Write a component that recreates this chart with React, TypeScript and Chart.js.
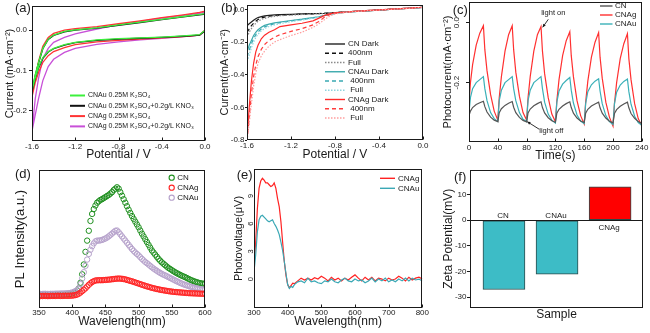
import React, { useEffect, useRef } from 'react';
import { Chart, registerables } from 'chart.js';
Chart.register(...registerables);

const FONT = "'Liberation Sans', Arial, Helvetica, sans-serif";
const INK = '#1a1a1a';

// ---------------- (a) cyclic voltammetry ----------------
const aPotential = [-1.6, -1.57, -1.54, -1.5, -1.45, -1.4, -1.3, -1.2, -1.0, -0.8, -0.6, -0.4, -0.2, -0.05, 0.0, 0.0, -0.05, -0.2, -0.4, -0.6, -0.8, -1.0, -1.2, -1.3, -1.4, -1.45, -1.5, -1.54, -1.57, -1.6];
const aCNAuK2SO4 = [-0.15, -0.11, -0.08, -0.045, -0.022, -0.012, -0.003, 0.001, 0.006, 0.013, 0.02, 0.027, 0.034, 0.039, 0.041, 0.0, -0.011, -0.014, -0.017, -0.019, -0.021, -0.024, -0.03, -0.036, -0.045, -0.053, -0.068, -0.092, -0.118, -0.15];
const aCNAuKNO3 = [-0.152, -0.112, -0.082, -0.046, -0.023, -0.013, -0.004, 0.0, 0.005, 0.012, 0.019, 0.026, 0.033, 0.038, 0.04, -0.002, -0.012, -0.015, -0.018, -0.02, -0.022, -0.025, -0.031, -0.037, -0.046, -0.054, -0.07, -0.094, -0.12, -0.152];
const aCNAgK2SO4 = [-0.165, -0.118, -0.078, -0.04, -0.018, -0.008, 0.0, 0.004, 0.009, 0.016, 0.023, 0.031, 0.038, 0.044, 0.047, 0.0, -0.012, -0.016, -0.019, -0.022, -0.025, -0.029, -0.036, -0.043, -0.053, -0.063, -0.08, -0.105, -0.13, -0.165];
const aCNAgKNO3 = [-0.25, -0.17, -0.12, -0.07, -0.045, -0.03, -0.018, -0.009, 0.003, 0.014, 0.022, 0.03, 0.037, 0.042, 0.045, 0.0, -0.012, -0.016, -0.02, -0.024, -0.029, -0.035, -0.045, -0.055, -0.072, -0.09, -0.125, -0.17, -0.21, -0.25];
const aXTicks = [-1.6, -1.2, -0.8, -0.4, 0.0];
const aYTicks = [-0.2, -0.1, 0.0];

// ---------------- (b) LSV ----------------
const bPotential = [-1.6, -1.59, -1.58, -1.56, -1.54, -1.52, -1.5, -1.47, -1.44, -1.4, -1.35, -1.3, -1.2, -1.1, -1.0, -0.95, -0.9, -0.85, -0.8, -0.7, -0.6, -0.4, -0.2, 0.0];
const bCNDark = [-0.1, -0.094, -0.088, -0.077, -0.066, -0.057, -0.05, -0.044, -0.04, -0.037, -0.034, -0.032, -0.03, -0.028, -0.026, -0.025, -0.024, -0.022, -0.02, -0.016, -0.012, -0.004, 0.004, 0.012];
const bCN400 = [-0.14, -0.13, -0.12, -0.1, -0.085, -0.072, -0.062, -0.053, -0.047, -0.042, -0.038, -0.035, -0.032, -0.029, -0.027, -0.026, -0.024, -0.022, -0.019, -0.015, -0.011, -0.003, 0.005, 0.013];
const bCNFull = [-0.17, -0.155, -0.14, -0.118, -0.1, -0.085, -0.073, -0.062, -0.055, -0.048, -0.043, -0.039, -0.035, -0.031, -0.028, -0.027, -0.025, -0.023, -0.02, -0.016, -0.012, -0.003, 0.005, 0.013];
const bCNAuDark = [-0.26, -0.24, -0.22, -0.19, -0.16, -0.14, -0.125, -0.11, -0.098, -0.09, -0.083, -0.077, -0.068, -0.06, -0.05, -0.045, -0.038, -0.03, -0.024, -0.017, -0.012, -0.004, 0.004, 0.012];
const bCNAu400 = [-0.29, -0.27, -0.25, -0.21, -0.18, -0.155, -0.138, -0.12, -0.107, -0.097, -0.088, -0.081, -0.071, -0.062, -0.052, -0.046, -0.039, -0.031, -0.024, -0.017, -0.012, -0.004, 0.004, 0.012];
const bCNAuFull = [-0.32, -0.3, -0.28, -0.235, -0.2, -0.172, -0.152, -0.132, -0.117, -0.105, -0.095, -0.087, -0.075, -0.065, -0.054, -0.047, -0.04, -0.032, -0.025, -0.017, -0.012, -0.004, 0.004, 0.012];
const bCNAgDark = [-0.78, -0.7, -0.6, -0.44, -0.33, -0.26, -0.22, -0.18, -0.158, -0.14, -0.125, -0.105, -0.095, -0.085, -0.07, -0.055, -0.038, -0.027, -0.021, -0.016, -0.011, -0.003, 0.005, 0.013];
const bCNAg400 = [-0.8, -0.74, -0.66, -0.52, -0.41, -0.34, -0.29, -0.245, -0.215, -0.19, -0.17, -0.155, -0.135, -0.118, -0.095, -0.075, -0.05, -0.033, -0.024, -0.017, -0.012, -0.004, 0.004, 0.012];
const bCNAgFull = [-0.8, -0.76, -0.7, -0.58, -0.47, -0.39, -0.33, -0.285, -0.255, -0.225, -0.2, -0.185, -0.16, -0.14, -0.11, -0.09, -0.065, -0.042, -0.028, -0.018, -0.012, -0.004, 0.004, 0.012];
const bYTicks = [-0.8, -0.6, -0.4, -0.2, 0.0];

// ---------------- (c) transient photocurrent ----------------
const cTime = [0, 2, 5, 10, 15, 20, 22, 25, 30, 35, 40, 42, 45, 50, 55, 60, 62, 65, 70, 75, 80, 82, 85, 90, 95, 100, 102, 105, 110, 115, 120, 122, 125, 130, 135, 140, 142, 145, 150, 155, 160, 162, 165, 170, 175, 180, 182, 185, 190, 195, 200, 202, 205, 210, 215, 220, 222, 225, 230, 235, 240];
const cCN = [-0.31, -0.295, -0.283, -0.273, -0.267, -0.262, -0.28, -0.298, -0.315, -0.325,
  -0.33, -0.3, -0.287, -0.276, -0.269, -0.263, -0.282, -0.3, -0.316, -0.326,
  -0.331, -0.301, -0.288, -0.277, -0.27, -0.264, -0.283, -0.301, -0.317, -0.327,
  -0.332, -0.302, -0.289, -0.278, -0.27, -0.264, -0.283, -0.302, -0.318, -0.328,
  -0.333, -0.302, -0.289, -0.278, -0.271, -0.265, -0.284, -0.302, -0.318, -0.329,
  -0.334, -0.303, -0.29, -0.279, -0.271, -0.265, -0.284, -0.303, -0.319, -0.33, -0.336];
const cCNAg = [-0.27, -0.2, -0.14, -0.075, -0.035, -0.01, -0.09, -0.16, -0.24, -0.295,
  -0.325, -0.25, -0.18, -0.095, -0.04, -0.01, -0.09, -0.165, -0.245, -0.3,
  -0.325, -0.25, -0.18, -0.095, -0.04, -0.013, -0.095, -0.17, -0.25, -0.305,
  -0.33, -0.26, -0.19, -0.11, -0.06, -0.03, -0.11, -0.18, -0.26, -0.31,
  -0.338, -0.265, -0.195, -0.115, -0.065, -0.033, -0.115, -0.185, -0.265, -0.315,
  -0.345, -0.27, -0.2, -0.12, -0.07, -0.037, -0.12, -0.19, -0.27, -0.32, -0.345];
const cCNAu = [-0.3, -0.25, -0.22, -0.2, -0.19, -0.18, -0.22, -0.26, -0.3, -0.32,
  -0.33, -0.26, -0.225, -0.2, -0.19, -0.18, -0.22, -0.26, -0.3, -0.322,
  -0.33, -0.26, -0.225, -0.2, -0.19, -0.18, -0.22, -0.265, -0.305, -0.325,
  -0.335, -0.265, -0.228, -0.205, -0.193, -0.183, -0.225, -0.268, -0.308, -0.328,
  -0.337, -0.27, -0.23, -0.207, -0.195, -0.187, -0.228, -0.27, -0.31, -0.33,
  -0.34, -0.27, -0.232, -0.208, -0.196, -0.188, -0.23, -0.272, -0.312, -0.333, -0.342];
const cXTicks = [0, 40, 80, 120, 160, 200, 240];
const cYTicks = [-0.2, 0.0];

// ---------------- (d) PL spectra ----------------
const dWavelength = [350, 352.5, 355, 357.5, 360, 362.5, 365, 367.5, 370, 372.5, 375, 377.5, 380, 382.5, 385, 387.5, 390, 392.5, 395, 397.5,
  400, 402.5, 405, 407.5, 410, 412.5, 415, 417.5, 420, 422.5, 425, 427.5, 430, 432.5, 435, 437.5, 440, 442.5, 445, 447.5,
  450, 452.5, 455, 457.5, 460, 462.5, 465, 467.5, 470, 472.5, 475, 477.5, 480, 482.5, 485, 487.5, 490, 492.5, 495, 497.5,
  500, 502.5, 505, 507.5, 510, 512.5, 515, 517.5, 520, 522.5, 525, 527.5, 530, 532.5, 535, 537.5, 540, 542.5, 545, 547.5,
  550, 552.5, 555, 557.5, 560, 562.5, 565, 567.5, 570, 572.5, 575, 577.5, 580, 582.5, 585, 587.5, 590, 592.5, 595, 597.5, 600];
const dCN = [9.5, 9.6, 9.5, 9.4, 9.6, 9.5, 9.5, 9.6, 9.6, 9.5, 9.7, 9.6, 9.8, 9.7, 9.7, 9.8, 9.8, 9.9, 10, 10.2,
  10.5, 10.9, 11.5, 12.5, 14, 18, 24, 31, 40, 48, 55, 62, 67, 70.5, 73, 75, 76, 77, 77.5, 78.3,
  79, 79.8, 80.5, 81.5, 82.5, 84, 85, 86, 85, 82.5, 80, 77.5, 75, 72.5, 70, 67.7, 65.5, 63.5, 61.5, 59.5,
  57.5, 55.2, 53, 51, 49, 47, 45, 43, 41, 39.5, 38, 36.5, 35, 33.7, 32.5, 31.5, 30.5, 29.5, 28.5, 27.8,
  27, 26.2, 25.5, 24.8, 24.2, 23.6, 23, 22.5, 22, 21.4, 20.8, 20.2, 19.7, 19.2, 18.8, 18.4, 18, 17.7, 17.5, 17.3, 17.2];
const dCNAg = [8.5, 8.5, 8.5, 8.6, 8.6, 8.5, 8.5, 8.6, 8.6, 8.6, 8.6, 8.7, 8.7, 8.6, 8.6, 8.7, 8.7, 8.7, 8.7, 8.8,
  8.8, 9, 9.2, 9.6, 10.2, 11, 12, 13, 14, 15.3, 16.5, 17.6, 18.5, 19.1, 19.6, 19.7, 19.8, 19.8, 19.8, 19.9,
  20, 20.1, 20.2, 20.3, 20.5, 20.6, 20.8, 20.9, 21, 20.9, 20.8, 20.6, 20.4, 20, 19.7, 19.3, 19, 18.6, 18.2, 17.8,
  17.4, 17, 16.6, 16.2, 15.8, 15.4, 15.1, 14.7, 14.4, 14.1, 13.8, 13.5, 13.3, 13, 12.8, 12.6, 12.4, 12.2, 12, 11.8,
  11.7, 11.5, 11.4, 11.3, 11.2, 11.1, 11, 10.9, 10.8, 10.7, 10.6, 10.5, 10.5, 10.4, 10.4, 10.3, 10.3, 10.2, 10.2, 10.1, 10.1];
const dCNAu = [10, 10, 10, 10.1, 10.1, 10, 10, 10.1, 10.1, 10.1, 10.2, 10.2, 10.2, 10.3, 10.3, 10.3, 10.4, 10.5, 10.6, 10.8,
  11, 11.5, 12, 12.8, 14, 17, 21, 25.5, 30, 34.5, 38.5, 41.5, 44, 46, 47.5, 48, 48, 48.2, 48.5, 49,
  49.5, 50.2, 51, 52, 53, 54, 55, 55.2, 54, 52.5, 51, 49.5, 48, 46.5, 45, 43.5, 42, 40.7, 39.5, 38.5,
  37.5, 36.2, 35, 33.9, 32.8, 31.9, 31, 30, 29, 28.1, 27.3, 26.5, 25.7, 25, 24.3, 23.7, 23.2, 22.6, 22, 21.4,
  20.8, 20.2, 19.6, 19, 18.5, 17.9, 17.4, 16.9, 16.5, 16.1, 15.7, 15.3, 15, 14.6, 14.3, 14, 13.8, 13.5, 13.3, 13.1, 13];
const dXTicks = [350, 400, 450, 500, 550, 600];

// ---------------- (e) surface photovoltage ----------------
const eWavelength = [300, 305, 310, 315, 320, 325, 330, 335, 340, 345, 350, 355, 360, 365, 370, 375, 380, 385, 390, 395, 400, 405, 410, 415, 420, 430, 440, 450, 460, 470, 480, 490, 500, 510, 520, 530, 540, 550, 560, 570, 580, 590, 600, 610, 620, 630, 640, 650, 660, 670, 680, 690, 700, 710, 720, 730, 740, 750, 760, 770, 780, 790, 800];
const eCNAg = [1.3, 4, 7.6, 9.8, 10.6, 10.9, 10.7, 10.4, 10.4, 10.2, 10.0, 10.1, 10.4, 9.8, 8.7, 7.8, 6.2, 4.0, 1.9, 0.4, -0.6, -0.95, -0.7, -0.45, -0.5,
  -0.2, 0.1, -0.1, 0.1, -0.1, 0.15, 0.0, 0.3, 0.1, -0.2, 0.2, -0.1, 0.1, -0.2, 0.1, -0.1, 0.2, 0.45, 0.1, -0.2, 0.2, -0.1, 0.2, -0.2, 0.1, 0.0, -0.2, 0.1, -0.1, 0.0, 0.3, 0.1, -0.2, 0.2, -0.1, 0.1, 0.2, 0.0];
const eCNAu = [0.8, 2.6, 5.1, 6.4, 6.8, 6.9, 6.7, 6.5, 6.3, 6.2, 6.3, 6.4, 6.0, 5.7, 5.3, 4.8, 4.0, 3.1, 1.9, 0.6, -0.6, -1.0, -0.8, -0.9, -0.6,
  -0.3, -0.2, -0.4, 0.1, -0.3, -0.2, -0.4, -0.5, -0.2, -0.3, 0.0, -0.3, -0.4, -0.1, 0.1, -0.2, -0.3, 0.0, -0.2, -0.1, -0.4, -0.2, 0.1, -0.3, 0.0, -0.2, 0.1, -0.3, -0.1, -0.3, 0.0, -0.2, 0.1, -0.2, 0.1, -0.1, 0.0, -0.2];
const eXTicks = [300, 400, 500, 600, 700, 800];
const eYTicks = [0, 3, 6, 9];

// ---------------- (f) zeta potential ----------------
const fSamples = ['CN', 'CNAu', 'CNAg'];
const fZeta = [-27, -21, 13];
const fColors = ['#3dbcc6', '#3dbcc6', '#ff0000'];
const fYTicks = [-30, -20, -10, 0, 10];

// ---------------- helpers ----------------
type AxisSpec = {
  min: number; max: number; ticks?: number[]; size: number;
  title?: string; titleSize?: number; titlePad?: number;
  labels?: boolean; fmt?: (v: number) => string;
  tickLen?: number; labelPad?: number;
};
const fmt1 = (v: number) => v.toFixed(1);

function axis(s: AxisSpec, horizontal: boolean) {
  const tl = s.tickLen || 0;
  return {
    type: 'linear',
    position: horizontal ? 'bottom' : 'left',
    min: s.min,
    max: s.max,
    afterBuildTicks: (sc: any) => { sc.ticks = (s.ticks || []).map((v) => ({ value: v })); },
    afterFit: (sc: any) => { if (horizontal) sc.height = s.size; else sc.width = s.size; },
    grid: { display: tl > 0, drawOnChartArea: false, drawTicks: tl > 0, tickLength: tl, color: INK, tickColor: INK, lineWidth: 1 },
    border: { display: false },
    ticks: {
      display: s.labels !== false && !!s.ticks && s.ticks.length > 0,
      autoSkip: false,
      minRotation: 0,
      maxRotation: 0,
      padding: s.labelPad ?? 1,
      color: INK,
      font: { size: 8, family: FONT, lineHeight: 1 },
      callback: (v: any) => (s.fmt ? s.fmt(Number(v)) : String(v)),
    },
    title: {
      display: !!s.title,
      text: s.title,
      color: INK,
      font: { size: s.titleSize || 12, family: FONT, lineHeight: 1.2 },
      padding: horizontal ? { top: 0, bottom: s.titlePad || 0 } : { top: s.titlePad || 0, bottom: 0 },
    },
  };
}

function txt(ctx: CanvasRenderingContext2D, s: string, x: number, y: number, size: number, align: CanvasTextAlign = 'left', color = INK) {
  ctx.save();
  ctx.font = `${size}px ${FONT}`;
  ctx.fillStyle = color;
  ctx.textAlign = align;
  ctx.textBaseline = 'middle';
  ctx.fillText(s, x, y);
  ctx.restore();
}

// y tick labels written vertically (rotated), placed from the library's own y scale
function rotatedYLabels(ctx: CanvasRenderingContext2D, chart: any, values: number[], xCenter: number, size: number, fmt: (v: number) => string) {
  const sy = chart.scales.y;
  values.forEach((v) => {
    const py = sy.getPixelForValue(v);
    ctx.save();
    ctx.translate(xCenter, py);
    ctx.rotate(-Math.PI / 2);
    ctx.font = `${size}px ${FONT}`;
    ctx.fillStyle = INK;
    ctx.textAlign = 'center';
    ctx.textBaseline = 'middle';
    ctx.fillText(fmt(v), 0, 0);
    ctx.restore();
  });
}

type LegendItem = { label: string; color: string; dash?: number[]; width?: number; marker?: boolean };
function legend(ctx: CanvasRenderingContext2D, items: LegendItem[], x: number, y: number, gap: number, len: number, textGap: number, size: number) {
  items.forEach((it, i) => {
    const yy = y + i * gap;
    ctx.save();
    ctx.strokeStyle = it.color;
    if (it.marker) {
      ctx.lineWidth = 1.1;
      ctx.beginPath();
      ctx.arc(x + len / 2, yy, 2.6, 0, Math.PI * 2);
      ctx.stroke();
    } else {
      ctx.lineWidth = it.width || 1.5;
      ctx.setLineDash(it.dash || []);
      ctx.beginPath();
      ctx.moveTo(x, yy);
      ctx.lineTo(x + len, yy);
      ctx.stroke();
    }
    ctx.restore();
    txt(ctx, it.label, x + len + textGap, yy, size);
  });
}

function arrow(ctx: CanvasRenderingContext2D, x1: number, y1: number, x2: number, y2: number) {
  ctx.save();
  ctx.strokeStyle = INK;
  ctx.fillStyle = INK;
  ctx.lineWidth = 0.9;
  ctx.beginPath();
  ctx.moveTo(x1, y1);
  ctx.lineTo(x2, y2);
  ctx.stroke();
  const ang = Math.atan2(y2 - y1, x2 - x1);
  const h = 3.5;
  ctx.beginPath();
  ctx.moveTo(x2, y2);
  ctx.lineTo(x2 - h * Math.cos(ang - 0.45), y2 - h * Math.sin(ang - 0.45));
  ctx.lineTo(x2 - h * Math.cos(ang + 0.45), y2 - h * Math.sin(ang + 0.45));
  ctx.closePath();
  ctx.fill();
  ctx.restore();
}

function frame(opts: { inX?: boolean; draw?: (ctx: CanvasRenderingContext2D, chart: any) => void }) {
  return {
    id: 'frame',
    afterDraw(chart: any) {
      const { ctx, chartArea: a } = chart;
      ctx.save();
      ctx.strokeStyle = INK;
      ctx.lineWidth = 1;
      const L = Math.round(a.left) + 0.5;
      const T = Math.round(a.top) + 0.5;
      const R = Math.round(a.right) - 0.5;
      const B = Math.round(a.bottom) - 0.5;
      ctx.strokeRect(L, T, R - L, B - T);
      if (opts.inX) {
        const sx = chart.scales.x;
        sx.ticks.forEach((t: any) => {
          const px = Math.round(sx.getPixelForValue(t.value)) + 0.5;
          ctx.beginPath();
          ctx.moveTo(px, B);
          ctx.lineTo(px, B - 3);
          ctx.stroke();
        });
      }
      ctx.restore();
      if (opts.draw) opts.draw(ctx, chart);
    },
  };
}

function base(pad: any, x: any, y: any) {
  return {
    responsive: false,
    animation: false,
    events: [],
    layout: { padding: pad },
    plugins: { legend: { display: false }, tooltip: { enabled: false } },
    scales: { x, y },
    elements: { point: { radius: 0 }, line: { tension: 0 } },
  };
}

function lineSet(label: string, xs: number[], ys: number[], color: string, width: number, dash: number[] = []) {
  return {
    label,
    data: xs.map((x, i) => ({ x, y: ys[i] })),
    borderColor: color,
    backgroundColor: color,
    borderWidth: width,
    borderDash: dash,
    pointRadius: 0,
    fill: false,
    tension: 0,
  };
}

function Panel({ left, top, width, height, config }: { left: number; top: number; width: number; height: number; config: () => any }) {
  const ref = useRef<HTMLCanvasElement>(null);
  useEffect(() => {
    const chart = new Chart(ref.current as HTMLCanvasElement, config());
    return () => chart.destroy();
  }, []);
  return <canvas ref={ref} width={width} height={height} style={{ position: 'absolute', left, top, width, height }} />;
}

// ---------------- panel configs ----------------
const cfgA = () => ({
  type: 'line',
  data: {
    datasets: [
      lineSet('CNAu 0.25M K₂SO₄', aPotential, aCNAuK2SO4, '#3cf03c', 1.3),
      lineSet('CNAu 0.25M K₂SO₄+0.2g/L KNO₃', aPotential, aCNAuKNO3, '#111111', 1.3),
      lineSet('CNAg 0.25M K₂SO₄', aPotential, aCNAgK2SO4, '#ff3434', 1.3),
      lineSet('CNAg 0.25M K₂SO₄+0.2g/L KNO₃', aPotential, aCNAgKNO3, '#c850d8', 1.3),
    ],
  },
  options: base(
    { left: 0, top: 2, right: 10, bottom: 0 },
    axis({ min: -1.6, max: 0, ticks: aXTicks, size: 29, fmt: fmt1, labelPad: 1.5, title: 'Potential / V', titleSize: 12, titlePad: 7.8 }, true),
    axis({ min: -0.2747, max: 0.06, ticks: aYTicks, size: 32, fmt: fmt1, tickLen: 3, labelPad: 2, title: 'Current (mA·cm⁻²)', titleSize: 11, titlePad: 3.4 }, false),
  ),
  plugins: [frame({
    inX: true,
    draw: (ctx) => {
      txt(ctx, '(a)', 15, 8.5, 13);
      legend(ctx, [
        { label: 'CNAu 0.25M K₂SO₄', color: '#3cf03c', width: 2 },
        { label: 'CNAu 0.25M K₂SO₄+0.2g/L KNO₃', color: '#111111', width: 2 },
        { label: 'CNAg 0.25M K₂SO₄', color: '#ff3434', width: 2 },
        { label: 'CNAg 0.25M K₂SO₄+0.2g/L KNO₃', color: '#c850d8', width: 2 },
      ], 70, 95.5, 10.3, 15, 3, 7);
    },
  })],
});

const bItems = [
  { label: 'CN Dark', ys: bCNDark, color: '#222222', dash: [] as number[] },
  { label: '400nm', ys: bCN400, color: '#111111', dash: [4, 3] },
  { label: 'Full', ys: bCNFull, color: '#8a8a8a', dash: [1.5, 1.5] },
  { label: 'CNAu Dark', ys: bCNAuDark, color: '#3aa9ac', dash: [] as number[] },
  { label: ' 400nm', ys: bCNAu400, color: '#3aa9b2', dash: [4, 3] },
  { label: ' Full', ys: bCNAuFull, color: '#8ed4de', dash: [1.5, 1.5] },
  { label: 'CNAg Dark', ys: bCNAgDark, color: '#ff2a2a', dash: [] as number[] },
  { label: ' 400nm', ys: bCNAg400, color: '#ff3c3c', dash: [4, 3] },
  { label: ' Full', ys: bCNAgFull, color: '#ff9e9e', dash: [1.5, 1.5] },
];
const cfgB = () => ({
  type: 'line',
  data: { datasets: bItems.slice().reverse().map((it) => lineSet(it.label, bPotential, it.ys, it.color, 1.2, it.dash)) },
  options: base(
    { left: 0, top: 2, right: 6, bottom: 0 },
    axis({ min: -1.6, max: 0, ticks: aXTicks, size: 30, fmt: fmt1, labelPad: 1.5, title: 'Potential / V', titleSize: 12, titlePad: 7.8 }, true),
    axis({ min: -0.8, max: 0.03, ticks: bYTicks, size: 32, fmt: fmt1, tickLen: 2, labelPad: 0.5, title: 'Current(mA·cm⁻²)', titleSize: 11, titlePad: 3.4 }, false),
  ),
  plugins: [frame({
    inX: true,
    draw: (ctx) => {
      txt(ctx, '(b)', 6, 8, 13);
      legend(ctx, bItems.map((it) => ({ label: it.label, color: it.color, dash: it.dash, width: 1.4 })), 110, 44, 9.25, 20, 3, 8);
    },
  })],
});

const cfgC = () => ({
  type: 'line',
  data: {
    datasets: [
      lineSet('CN', cTime, cCN, '#555555', 1.2),
      lineSet('CNAu', cTime, cCNAu, '#3ab0b8', 1.2),
      lineSet('CNAg', cTime, cCNAg, '#ff3030', 1.2),
    ],
  },
  options: base(
    { left: 0, top: 2, right: 8, bottom: 0 },
    axis({ min: 0, max: 240, ticks: cXTicks, size: 28, labelPad: 1.5, title: 'Time(s)', titleSize: 12, titlePad: 6.8 }, true),
    axis({ min: -0.398, max: 0.069, ticks: cYTicks, size: 39, labels: false, tickLen: 3, title: 'Photocurrent(mA·cm⁻²)', titleSize: 11, titlePad: 11.4 }, false),
  ),
  plugins: [frame({
    inX: true,
    draw: (ctx, chart) => {
      rotatedYLabels(ctx, chart, cYTicks, 27, 8, fmt1);
      txt(ctx, '(c)', 22.7, 10, 13);
      legend(ctx, [
        { label: 'CN', color: '#555555', width: 1.4 },
        { label: 'CNAg', color: '#ff3030', width: 1.4 },
        { label: 'CNAu', color: '#3ab0b8', width: 1.4 },
      ], 170, 6, 9, 12.5, 2.5, 8);
      txt(ctx, 'light on', 123.3, 13.3, 7.5, 'center');
      arrow(ctx, 118.3, 19.3, 112.7, 27.3);
      txt(ctx, 'light off', 121.3, 131, 7.5, 'center');
      arrow(ctx, 109.3, 129.3, 97.3, 121.7);
    },
  })],
});

const dSeries = [
  { label: 'CNAg', ys: dCNAg, color: '#ff2424' },
  { label: 'CNAu', ys: dCNAu, color: '#b6a2cb' },
  { label: 'CN', ys: dCN, color: '#1f8f1f' },
];
const cfgD = () => ({
  type: 'line',
  data: {
    datasets: dSeries.map((s) => ({
      label: s.label,
      data: dWavelength.map((x, i) => ({ x, y: s.ys[i] })),
      showLine: false,
      borderColor: s.color,
      backgroundColor: 'rgba(0,0,0,0)',
      pointStyle: 'circle',
      pointRadius: 2.7,
      pointBorderWidth: 1,
      pointBorderColor: s.color,
      pointBackgroundColor: 'rgba(0,0,0,0)',
    })),
  },
  options: base(
    { left: 0, top: 4, right: 10, bottom: 0 },
    axis({ min: 350, max: 600, ticks: dXTicks, size: 25, labelPad: 1, title: 'Wavelength(nm)', titleSize: 12, titlePad: 3.8 }, true),
    axis({ min: 0, max: 98.3, ticks: [], size: 39, labels: false, title: 'PL Intensity(a.u.)', titleSize: 13, titlePad: 12.2 }, false),
  ),
  plugins: [frame({
    inX: true,
    draw: (ctx) => {
      txt(ctx, '(d)', 15, 9.5, 13);
      legend(ctx, [
        { label: 'CN', color: '#1f8f1f', marker: true },
        { label: 'CNAg', color: '#ff2424', marker: true },
        { label: 'CNAu', color: '#b6a2cb', marker: true },
      ], 168.7, 12.7, 10, 6, 2.5, 8);
    },
  })],
});

const cfgE = () => ({
  type: 'line',
  data: {
    datasets: [
      lineSet('CNAu', eWavelength, eCNAu, '#3aa8b5', 1.2),
      lineSet('CNAg', eWavelength, eCNAg, '#ff2222', 1.2),
    ],
  },
  options: base(
    { left: 0, top: 4, right: 4, bottom: 0 },
    axis({ min: 300, max: 800, ticks: eXTicks, size: 25, labelPad: 1, title: 'Wavelength(nm)', titleSize: 12, titlePad: 3.8 }, true),
    axis({ min: -3.13, max: 11.9, ticks: eYTicks, size: 39, labels: false, tickLen: 0, title: 'Photovoltage(μV)', titleSize: 11, titlePad: 17.4 }, false),
  ),
  plugins: [frame({
    inX: true,
    draw: (ctx, chart) => {
      rotatedYLabels(ctx, chart, eYTicks, 35.5, 7.5, (v) => String(v));
      txt(ctx, '(e)', 21.7, 10, 13);
      legend(ctx, [
        { label: 'CNAg', color: '#ff2222', width: 1.4 },
        { label: 'CNAu', color: '#3aa8b5', width: 1.4 },
      ], 165, 13.3, 10, 15, 3, 8);
    },
  })],
});

const cfgF = () => ({
  type: 'bar',
  data: {
    datasets: [{
      label: 'Zeta potential',
      data: fSamples.map((_, i) => ({ x: i, y: fZeta[i] })),
      backgroundColor: fColors,
      borderColor: '#2b4a4a',
      borderWidth: 1,
      borderSkipped: false,
      barThickness: 42,
    }],
  },
  options: base(
    { left: 0, top: 4, right: 7, bottom: 0 },
    axis({ min: -0.64, max: 2.62, ticks: [], size: 25, labels: false, title: 'Sample', titleSize: 12, titlePad: 10.8 }, true),
    axis({ min: -34.2, max: 19.8, ticks: fYTicks, size: 40, tickLen: 3, labelPad: 0.5, title: 'Zeta Potential(mV)', titleSize: 12, titlePad: 11.8 }, false),
  ),
  plugins: [frame({
    draw: (ctx, chart) => {
      const sx = chart.scales.x;
      const sy = chart.scales.y;
      const y0 = Math.round(sy.getPixelForValue(0)) + 0.5;
      ctx.save();
      ctx.strokeStyle = INK;
      ctx.lineWidth = 1;
      ctx.beginPath();
      ctx.moveTo(chart.chartArea.left, y0);
      ctx.lineTo(chart.chartArea.right, y0);
      ctx.stroke();
      ctx.restore();
      fSamples.forEach((name, i) => {
        const px = sx.getPixelForValue(i);
        const py = fZeta[i] < 0 ? y0 - 5 : y0 + 7;
        txt(ctx, name, px - 1, py, 8, 'center');
      });
      txt(ctx, '(f)', 24, 12, 13);
    },
  })],
});

export default function App() {
  return (
    <div style={{ position: 'absolute', left: 0, top: 0, width: 650, height: 333, background: '#ffffff', overflow: 'hidden' }}>
      <Panel left={0} top={0} width={215} height={170} config={cfgA} />
      <Panel left={215} top={0} width={215} height={170} config={cfgB} />
      <Panel left={430} top={0} width={220} height={170} config={cfgC} />
      <Panel left={0} top={165} width={215} height={168} config={cfgD} />
      <Panel left={215} top={165} width={215} height={168} config={cfgE} />
      <Panel left={430} top={165} width={220} height={168} config={cfgF} />
    </div>
  );
}
